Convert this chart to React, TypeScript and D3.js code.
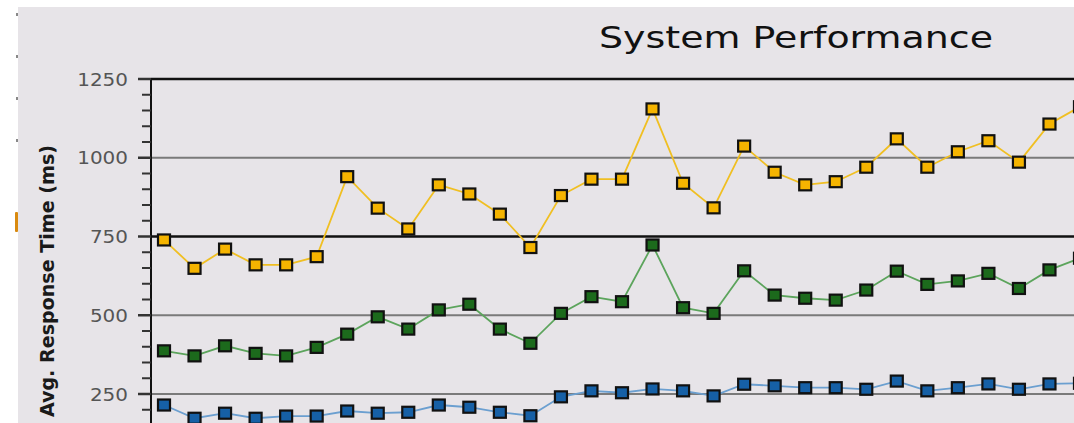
import React from "react";
import * as d3 from "d3";

const title = "System Performance";
const yAxisTitle = "Avg. Response Time (ms)";
const yMajorTicks = [250, 500, 750, 1000, 1250];
const yMinorTicks = [200, 300, 350, 400, 450, 550, 600, 650, 700, 800, 850, 900, 950, 1050, 1100, 1150, 1200];
const thickGridValues = [750, 1250];

const yellowValues = [739, 649, 710, 660, 660, 686, 940, 840, 774, 914, 885, 821, 715, 880, 932, 932, 1155, 919, 841, 1037, 954, 914, 924, 970, 1060, 970, 1019, 1054, 986, 1107, 1162];
const greenValues = [387, 371, 403, 379, 371, 398, 440, 495, 456, 517, 535, 456, 411, 506, 559, 543, 723, 524, 506, 641, 564, 554, 548, 580, 640, 598, 609, 633, 585, 644, 681];
const blueValues = [215, 173, 189, 173, 180, 180, 196, 189, 192, 215, 208, 192, 181, 241, 260, 254, 266, 260, 244, 281, 276, 270, 270, 265, 291, 260, 270, 282, 265, 282, 284];

const seriesList = [
  { name: "Yellow", values: yellowValues, fill: "#f5b400", line: "#f0bf22" },
  { name: "Green", values: greenValues, fill: "#1c6a1c", line: "#5ca45c" },
  { name: "Blue", values: blueValues, fill: "#1660a6", line: "#6b9fd0" },
];

export default function App() {
  const W = 1074;
  const H = 423;
  const axisX = 151;
  const x = d3.scaleLinear().domain([0, yellowValues.length - 1]).range([164, 1080]);
  const y = d3.scaleLinear().domain([250, 1250]).range([394, 79]);
  const line = d3
    .line<number>()
    .x((_, i) => x(i))
    .y((d) => y(d));

  return (
    <svg
      width={W}
      height={H}
      style={{ position: "absolute", left: 0, top: 0, display: "block" }}
    >
      <defs>
        <clipPath id="plotclip">
          <rect x={axisX} y={60} width={W - axisX} height={H - 60} />
        </clipPath>
      </defs>
      <rect x={0} y={0} width={W} height={H} fill="#ffffff" />
      <rect x={18} y={7} width={W - 18} height={H - 7} fill="#e7e4e8" />
      {/* cropped edge marks */}
      {[14, 56, 98, 140].map((yy) => (
        <rect key={yy} x={16} y={yy - 1} width={2} height={3} fill="#888" />
      ))}
      <rect x={15} y={212} width={3} height={20} fill="#d98a10" rx={1} />

      <text
        x={796}
        y={48}
        textAnchor="middle"
        fontFamily="'DejaVu Sans', Verdana, sans-serif"
        fontSize={30}
        fill="#111"
        textLength={394}
        lengthAdjust="spacingAndGlyphs"
      >
        {title}
      </text>

      <text
        transform={`translate(54, 281) rotate(-90)`}
        textAnchor="middle"
        fontFamily="'DejaVu Sans Condensed', 'DejaVu Sans', sans-serif"
        fontWeight="bold"
        fontSize={19}
        fill="#1a1a1a"
        textLength={272}
        lengthAdjust="spacingAndGlyphs"
      >
        {yAxisTitle}
      </text>

      {/* gridlines */}
      {yMajorTicks.map((v) => {
        const thick = thickGridValues.includes(v);
        return (
          <line
            key={"g" + v}
            x1={axisX}
            x2={W}
            y1={y(v)}
            y2={y(v)}
            stroke={thick ? "#111" : "#7a7a7a"}
            strokeWidth={thick ? 2.5 : 2}
          />
        );
      })}

      {/* axis */}
      <line x1={axisX} x2={axisX} y1={y(1250) - 1} y2={H} stroke="#111" strokeWidth={2} />
      {yMajorTicks.map((v) => (
        <g key={"t" + v}>
          <line x1={138} x2={axisX} y1={y(v)} y2={y(v)} stroke="#333" strokeWidth={2.5} />
          <text
            x={128}
            y={y(v) + 6.5}
            textAnchor="end"
            fontFamily="'DejaVu Sans', Verdana, sans-serif"
            fontSize={17.5}
            fill="#555"
            textLength={String(v).length * 12.7}
            lengthAdjust="spacingAndGlyphs"
          >
            {v}
          </text>
        </g>
      ))}
      {yMinorTicks.map((v) => (
        <line key={"m" + v} x1={142} x2={axisX} y1={y(v)} y2={y(v)} stroke="#333" strokeWidth={2} />
      ))}

      <g clipPath="url(#plotclip)">
        {seriesList.map((s) => (
          <g key={s.name}>
            <path d={line(s.values) || ""} fill="none" stroke={s.line} strokeWidth={1.8} />
            {s.values.map((v, i) => (
              <rect
                key={i}
                x={x(i) - 6}
                y={y(v) - 5.5}
                width={12}
                height={11}
                fill={s.fill}
                stroke="#111"
                strokeWidth={2.2}
              />
            ))}
          </g>
        ))}
      </g>
    </svg>
  );
}
